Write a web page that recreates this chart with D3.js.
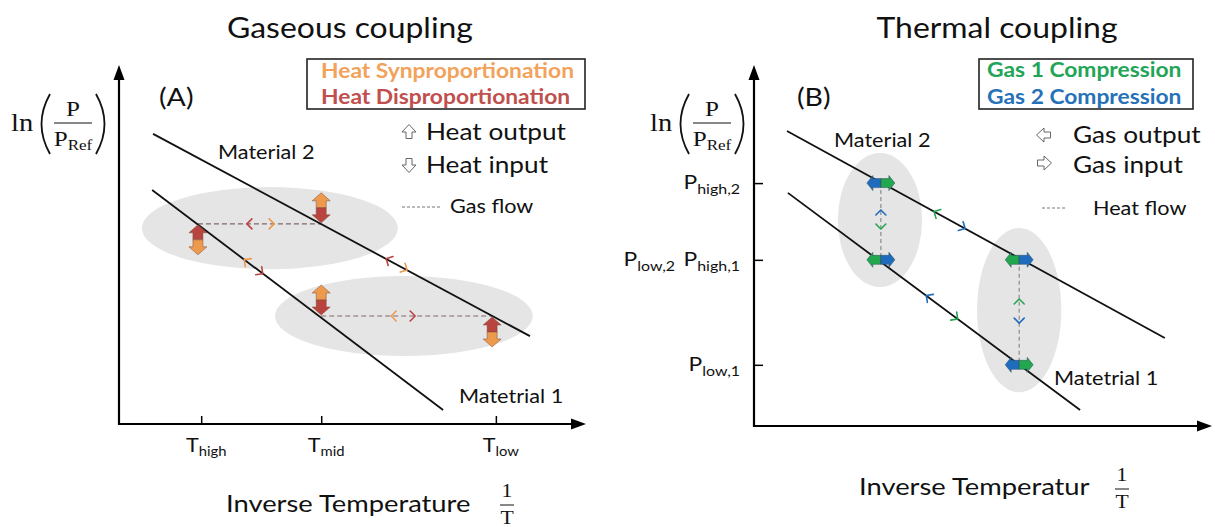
<!DOCTYPE html>
<html><head><meta charset="utf-8">
<script src="https://cdn.jsdelivr.net/npm/d3@7"></script>
<style>
html,body{margin:0;padding:0;background:#fff;}
svg{display:block;}
</style></head>
<body>
<svg id="chart" width="1215" height="527"></svg>
<script>
// ---------------- data ----------------
const titles = ["Gaseous coupling", "Thermal coupling"];
const panelLabels = ["(A)", "(B)"];
const xAxisTitles = ["Inverse Temperature", "Inverse Temperatur"];
const materialNames = ["Matetrial 1", "Material 2"];

// Panel A – gaseous coupling (abstract units: x = 1/T, y = ln P)
const tempTicksA = [{sub:"high", x:1.76}, {sub:"mid", x:4.33}, {sub:"low", x:8.07}];
const material1A = [[0.71, 6.50], [6.94, 0.39]];
const material2A = [[0.73, 8.06], [8.80, 2.44]];
const regionsA = [{cx:3.23, cy:5.44, rx:2.74, ry:1.14}, {cx:6.10, cy:3.00, rx:2.76, ry:1.11}];
const gasFlowA = [{x1:1.69, x2:4.33, y:5.56}, {x1:4.33, x2:7.99, y:3.00}];
const heatArrowsA = [
  {x:1.69, y:5.56, side:"below", top:"dis", bottom:"syn"},
  {x:4.33, y:5.56, side:"above", top:"syn", bottom:"dis"},
  {x:4.33, y:3.00, side:"above", top:"syn", bottom:"dis"},
  {x:7.99, y:3.00, side:"below", top:"dis", bottom:"syn"}
];
const chevronsA = [
  {x:2.76, y:5.56, on:"h",  dir:-1, c:"dis"},
  {x:3.30, y:5.56, on:"h",  dir: 1, c:"syn"},
  {x:5.85, y:3.00, on:"h",  dir:-1, c:"syn"},
  {x:6.32, y:3.00, on:"h",  dir: 1, c:"dis"},
  {x:2.70, y:4.55, on:"m1", dir:-1, c:"syn"},
  {x:3.06, y:4.19, on:"m1", dir: 1, c:"dis"},
  {x:5.74, y:4.58, on:"m2", dir:-1, c:"dis"},
  {x:6.15, y:4.29, on:"m2", dir: 1, c:"syn"}
];
const legendBoxA = ["Heat Synproportionation", "Heat Disproportionation"];
const legendA = ["Heat output", "Heat input", "Gas flow"];

// Panel B – thermal coupling
const pressureTicksB = [
  {y:6.71, labels:[["P","high,2"]]},
  {y:4.59, labels:[["P","high,1"], ["P","low,2"]]},
  {y:1.69, labels:[["P","low,1"]]}
];
const material1B = [[0.74, 6.44], [7.12, 0.44]];
const material2B = [[0.72, 8.15], [8.97, 2.43]];
const regionsB = [{cx:2.75, cy:5.69, rx:0.92, ry:1.85}, {cx:5.79, cy:3.20, rx:0.92, ry:2.27}];
const heatFlowB = [{x:2.77, y1:6.71, y2:4.59}, {x:5.79, y1:4.59, y2:1.69}];
const gasArrowsB = [
  {x:2.77, y:6.71, left:"g2", right:"g1"},
  {x:2.77, y:4.59, left:"g1", right:"g2"},
  {x:5.79, y:4.59, left:"g1", right:"g2"},
  {x:5.79, y:1.69, left:"g2", right:"g1"}
];
const chevronsB = [
  {x:2.77, y:5.94, on:"v",  dir:-1, c:"g2"},
  {x:2.77, y:5.47, on:"v",  dir: 1, c:"g1"},
  {x:5.79, y:3.48, on:"v",  dir:-1, c:"g1"},
  {x:5.79, y:2.87, on:"v",  dir: 1, c:"g2"},
  {x:3.95, y:5.91, on:"m2", dir:-1, c:"g1"},
  {x:4.59, y:5.47, on:"m2", dir: 1, c:"g2"},
  {x:3.78, y:3.59, on:"m1", dir:-1, c:"g2"},
  {x:4.43, y:2.97, on:"m1", dir: 1, c:"g1"}
];
const legendBoxB = ["Gas 1 Compression", "Gas 2 Compression"];
const legendB = ["Gas output", "Gas input", "Heat flow"];

// ---------------- styles ----------------
const COL = {syn:"#EE9A4D", dis:"#B9433E", g1:"#22A64E", g2:"#1F6CBF"};
const TXT = {syn:"#F2A25A", dis:"#C0504D", g1:"#22A557", g2:"#2672B8"};
const SANS = "Lato, 'Open Sans', sans-serif";
const SERIF = "'Liberation Serif', 'DejaVu Serif', serif";
const SX = 1.14;

const svg = d3.select("#chart");

function txt(g, x, y, parts, o = {}) {
  const t = g.append("text")
    .attr("transform", `translate(${x},${y}) scale(${SX},1)`)
    .attr("text-anchor", o.anchor || "start")
    .attr("fill", o.fill || "#111")
    .style("font-family", o.family || SANS)
    .style("font-size", (o.size || 20) + "px")
    .style("font-weight", o.weight || "normal");
  if (typeof parts === "string") parts = [{t: parts}];
  let shifted = 0;
  parts.forEach(p => {
    const s = t.append("tspan").text(p.t);
    if (p.sub) { s.style("font-size", (o.subSize || 14) + "px").attr("dy", (o.subDy || 5) - shifted); shifted = (o.subDy || 5); }
    else if (shifted) { s.attr("dy", -shifted); shifted = 0; }
  });
  return t;
}

function axisArrows(g, x0, y0, x1, y1) {
  g.append("line").attr("x1", x0).attr("y1", y0 + 1).attr("x2", x0).attr("y2", y1 + 12)
    .attr("stroke", "#000").attr("stroke-width", 2.2);
  g.append("path").attr("d", `M${x0},${y1} L${x0-5.5},${y1+15} L${x0+5.5},${y1+15} Z`).attr("fill", "#000");
  g.append("line").attr("x1", x0 - 1).attr("y1", y0).attr("x2", x1 - 12).attr("y2", y0)
    .attr("stroke", "#000").attr("stroke-width", 2.2);
  g.append("path").attr("d", `M${x1},${y0} L${x1-15},${y0-5.5} L${x1-15},${y0+5.5} Z`).attr("fill", "#000");
}

function lnLabel(g, x0) {
  txt(g, x0, 131, "ln", {family: SERIF, size: 25});
  g.append("path").attr("d", `M${x0+39},94 Q${x0+22},124 ${x0+39},154`)
    .attr("fill", "none").attr("stroke", "#111").attr("stroke-width", 1.8);
  g.append("path").attr("d", `M${x0+85},94 Q${x0+102},124 ${x0+85},154`)
    .attr("fill", "none").attr("stroke", "#111").attr("stroke-width", 1.8);
  g.append("line").attr("x1", x0 + 43).attr("x2", x0 + 81).attr("y1", 123).attr("y2", 123)
    .attr("stroke", "#111").attr("stroke-width", 1.1);
  txt(g, x0 + 62, 116, "P", {family: SERIF, size: 22, anchor: "middle"});
  txt(g, x0 + 62, 146, [{t:"P"}, {t:"Ref", sub:true}], {family: SERIF, size: 22, subSize: 15, subDy: 4, anchor: "middle"});
}

function fracT(g, cx, y) {
  txt(g, cx, y, "1", {family: SERIF, size: 19, anchor: "middle"});
  g.append("line").attr("x1", cx - 7).attr("x2", cx + 7).attr("y1", y + 8).attr("y2", y + 8)
    .attr("stroke", "#111").attr("stroke-width", 1);
  txt(g, cx, y + 27, "T", {family: SERIF, size: 19, anchor: "middle"});
}

function chevron(g, px, py, angleDeg, color) {
  g.append("path").attr("d", "M-4,-5 L1,0 L-4,5")
    .attr("transform", `translate(${px},${py}) rotate(${angleDeg})`)
    .attr("fill", "none").attr("stroke", color).attr("stroke-width", 1.6)
    .attr("stroke-linecap", "round").attr("stroke-linejoin", "round");
}

function lineAngle(seg, xs, ys) {
  return Math.atan2(ys(seg[1][1]) - ys(seg[0][1]), xs(seg[1][0]) - xs(seg[0][0])) * 180 / Math.PI;
}

function vArrow(g, cx, cy, topCol, botCol) {
  const L = 15, w = 5, H = 9, h = 8;
  g.append("path").attr("d", `M${cx-w},${cy} L${cx-w},${cy-L+h} L${cx-H},${cy-L+h} L${cx},${cy-L} L${cx+H},${cy-L+h} L${cx+w},${cy-L+h} L${cx+w},${cy} Z`)
    .attr("fill", topCol).attr("stroke", "#7a4a3a").attr("stroke-width", 0.5);
  g.append("path").attr("d", `M${cx-w},${cy} L${cx-w},${cy+L-h} L${cx-H},${cy+L-h} L${cx},${cy+L} L${cx+H},${cy+L-h} L${cx+w},${cy+L-h} L${cx+w},${cy} Z`)
    .attr("fill", botCol).attr("stroke", "#7a4a3a").attr("stroke-width", 0.5);
}

function hArrow(g, cx, cy, leftCol, rightCol) {
  const L = 14, w = 4.5, H = 7.5, h = 6;
  g.append("path").attr("d", `M${cx},${cy-w} L${cx-L+h},${cy-w} L${cx-L+h},${cy-H} L${cx-L},${cy} L${cx-L+h},${cy+H} L${cx-L+h},${cy+w} L${cx},${cy+w} Z`)
    .attr("fill", leftCol).attr("stroke", "#2a4a5a").attr("stroke-width", 0.5);
  g.append("path").attr("d", `M${cx},${cy-w} L${cx+L-h},${cy-w} L${cx+L-h},${cy-H} L${cx+L},${cy} L${cx+L-h},${cy+H} L${cx+L-h},${cy+w} L${cx},${cy+w} Z`)
    .attr("fill", rightCol).attr("stroke", "#2a4a5a").attr("stroke-width", 0.5);
}

function hollowArrow(g, cx, cy, rot) {
  g.append("path").attr("d", "M-3,6.5 L-3,0 L-7,0 L0,-7.5 L7,0 L3,0 L3,6.5 Z")
    .attr("transform", `translate(${cx},${cy}) rotate(${rot})`)
    .attr("fill", "#fff").attr("stroke", "#666").attr("stroke-width", 1);
}

// ---------------- Panel A ----------------
{
  const g = svg.append("g");
  const x = d3.scaleLinear().domain([0, 10]).range([119, 586]);
  const y = d3.scaleLinear().domain([0, 10]).range([424, 64]);

  txt(g, 350, 38, titles[0], {size: 28, anchor: "middle"});

  g.selectAll("ellipse").data(regionsA).join("ellipse")
    .attr("cx", d => x(d.cx)).attr("cy", d => y(d.cy))
    .attr("rx", d => x(d.rx) - x(0)).attr("ry", d => y(0) - y(d.ry))
    .attr("fill", "#e5e5e5");

  g.selectAll("line.gas").data(gasFlowA).join("line").attr("class", "gas")
    .attr("x1", d => x(d.x1)).attr("x2", d => x(d.x2)).attr("y1", d => y(d.y)).attr("y2", d => y(d.y))
    .attr("stroke", "#806868").attr("stroke-width", 1.2).attr("stroke-dasharray", "5,3");

  const line = d3.line().x(d => x(d[0])).y(d => y(d[1]));
  [material1A, material2A].forEach(m => g.append("path").attr("d", line(m))
    .attr("stroke", "#111").attr("stroke-width", 1.8).attr("fill", "none"));

  const ang = {h: 0, m1: lineAngle(material1A, x, y), m2: lineAngle(material2A, x, y)};
  chevronsA.forEach(c => chevron(g, x(c.x), y(c.y), ang[c.on] + (c.dir < 0 ? 180 : 0), COL[c.c]));

  heatArrowsA.forEach(a => vArrow(g, x(a.x), y(a.y) + (a.side === "above" ? -16 : 16), COL[a.top], COL[a.bottom]));

  axisArrows(g, 119, 424, 586, 65);
  const ax = d3.axisBottom(x).tickValues(tempTicksA.map(d => d.x)).tickSizeInner(-8).tickSizeOuter(0).tickFormat("");
  const axg = g.append("g").attr("transform", "translate(0,424)").call(ax);
  axg.select(".domain").remove();
  axg.selectAll(".tick line").attr("stroke", "#000").attr("stroke-width", 1.5);
  tempTicksA.forEach(t => txt(g, x(t.x) + 5, 452, [{t:"T"}, {t:t.sub, sub:true}], {size: 19, subSize: 13, subDy: 4, anchor: "middle"}));

  lnLabel(g, 11);
  txt(g, 159, 106, panelLabels[0], {size: 25});
  txt(g, 218, 159, materialNames[1], {size: 19});
  txt(g, 459, 403, materialNames[0], {size: 19});

  g.append("rect").attr("x", 307).attr("y", 59).attr("width", 278).attr("height", 50)
    .attr("fill", "none").attr("stroke", "#222").attr("stroke-width", 1.6);
  txt(g, 321, 78, legendBoxA[0], {size: 20, weight: "bold", fill: TXT.syn});
  txt(g, 321, 104, legendBoxA[1], {size: 20, weight: "bold", fill: TXT.dis});

  hollowArrow(g, 409, 132, 0);
  txt(g, 426, 140, legendA[0], {size: 23});
  hollowArrow(g, 409, 165, 180);
  txt(g, 426, 173, legendA[1], {size: 23});
  g.append("line").attr("x1", 402).attr("x2", 440).attr("y1", 207).attr("y2", 207)
    .attr("stroke", "#777").attr("stroke-width", 1).attr("stroke-dasharray", "3,2");
  txt(g, 450, 213, legendA[2], {size: 19});

  txt(g, 226, 512, xAxisTitles[0], {size: 24});
  fracT(g, 507, 497);
}

// ---------------- Panel B ----------------
{
  const g = svg.append("g");
  const x = d3.scaleLinear().domain([0, 10]).range([754, 1212]);
  const y = d3.scaleLinear().domain([0, 10]).range([426, 64]);

  txt(g, 997, 38, titles[1], {size: 28, anchor: "middle"});

  g.selectAll("ellipse").data(regionsB).join("ellipse")
    .attr("cx", d => x(d.cx)).attr("cy", d => y(d.cy))
    .attr("rx", d => x(d.rx) - x(0)).attr("ry", d => y(0) - y(d.ry))
    .attr("fill", "#e5e5e5");

  g.selectAll("line.heat").data(heatFlowB).join("line").attr("class", "heat")
    .attr("x1", d => x(d.x)).attr("x2", d => x(d.x)).attr("y1", d => y(d.y1)).attr("y2", d => y(d.y2))
    .attr("stroke", "#8c8c8c").attr("stroke-width", 1.2).attr("stroke-dasharray", "4,3");

  const line = d3.line().x(d => x(d[0])).y(d => y(d[1]));
  [material1B, material2B].forEach(m => g.append("path").attr("d", line(m))
    .attr("stroke", "#111").attr("stroke-width", 1.8).attr("fill", "none"));

  const ang = {v: 90, m1: lineAngle(material1B, x, y), m2: lineAngle(material2B, x, y)};
  chevronsB.forEach(c => chevron(g, x(c.x), y(c.y), ang[c.on] + (c.dir < 0 ? 180 : 0), COL[c.c]));

  gasArrowsB.forEach(a => hArrow(g, x(a.x), y(a.y), COL[a.left], COL[a.right]));

  axisArrows(g, 754, 426, 1212, 65);
  const ay = d3.axisLeft(y).tickValues(pressureTicksB.map(d => d.y)).tickSizeInner(-9).tickSizeOuter(0).tickFormat("");
  const ayg = g.append("g").attr("transform", "translate(754,0)").call(ay);
  ayg.select(".domain").remove();
  ayg.selectAll(".tick line").attr("stroke", "#000").attr("stroke-width", 1.5);
  const labelRight = [740, 675];
  pressureTicksB.forEach(t => t.labels.forEach((l, i) =>
    txt(g, labelRight[i], y(t.y) + 6, [{t:l[0]}, {t:l[1], sub:true}], {size: 20, subSize: 14, subDy: 5, anchor: "end"})));

  lnLabel(g, 650);
  txt(g, 797, 106, panelLabels[1], {size: 25});
  txt(g, 834, 147, materialNames[1], {size: 19});
  txt(g, 1054, 385, materialNames[0], {size: 19});

  g.append("rect").attr("x", 979).attr("y", 59).attr("width", 214).attr("height", 50)
    .attr("fill", "none").attr("stroke", "#222").attr("stroke-width", 1.6);
  txt(g, 987, 77, legendBoxB[0], {size: 20, weight: "bold", fill: TXT.g1});
  txt(g, 987, 104, legendBoxB[1], {size: 20, weight: "bold", fill: TXT.g2});

  hollowArrow(g, 1044, 135, -90);
  txt(g, 1073, 143, legendB[0], {size: 23});
  hollowArrow(g, 1044, 163, 90);
  txt(g, 1073, 173, legendB[1], {size: 23});
  g.append("line").attr("x1", 1042).attr("x2", 1066).attr("y1", 208).attr("y2", 208)
    .attr("stroke", "#777").attr("stroke-width", 1).attr("stroke-dasharray", "3,2");
  txt(g, 1093, 215, legendB[2], {size: 19});

  txt(g, 859, 495, xAxisTitles[1], {size: 24});
  fracT(g, 1122, 481);
}
</script>
</body></html>
